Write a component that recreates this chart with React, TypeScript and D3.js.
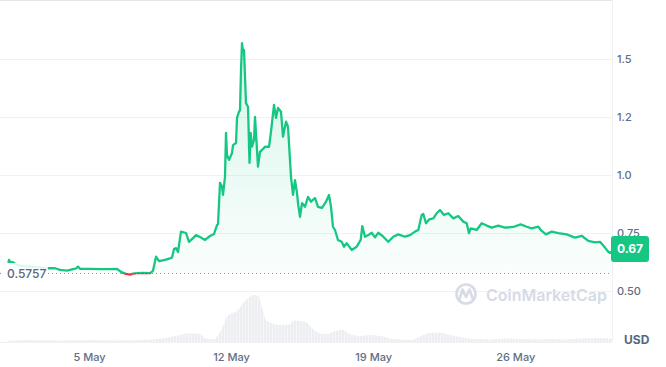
import React from 'react';
import * as d3 from 'd3';

// ---- data (days since 1 May 2024 00:00) ----
const priceDays = [
  0.0, 0.034, 0.084, 0.232, 0.379, 0.576, 0.921, 1.315, 1.66, 1.906,
  2.3, 2.547, 2.892, 3.187, 3.335, 3.433, 3.532, 4.025, 4.517, 5.01,
  5.355, 5.601, 5.798, 5.995, 6.143, 6.34, 6.635, 6.98, 7.128, 7.276,
  7.424, 7.719, 7.966, 8.064, 8.163, 8.261, 8.36, 8.507, 8.754, 8.901,
  9.099, 9.246, 9.443, 9.69, 9.936, 10.133, 10.281, 10.33, 10.429, 10.527,
  10.576, 10.675, 10.724, 10.773, 10.872, 11.02, 11.069, 11.217, 11.266, 11.365,
  11.414, 11.463, 11.512, 11.562, 11.611, 11.709, 11.808, 11.882, 11.941, 12.005,
  12.103, 12.153, 12.3, 12.399, 12.498, 12.645, 12.842, 12.941, 13.089, 13.187,
  13.286, 13.433, 13.532, 13.68, 13.778, 13.926, 14.025, 14.123, 14.222, 14.271,
  14.369, 14.468, 14.616, 14.764, 14.911, 15.108, 15.256, 15.453, 15.65, 15.798,
  15.897, 15.995, 16.094, 16.241, 16.424, 16.537, 16.67, 16.916, 17.163, 17.36,
  17.438, 17.571, 17.734, 17.901, 18.064, 18.227, 18.473, 18.719, 18.966, 19.212,
  19.542, 19.788, 20.034, 20.197, 20.365, 20.443, 20.576, 20.739, 20.936, 21.103,
  21.266, 21.463, 21.675, 21.921, 22.167, 22.414, 22.581, 22.695, 22.778, 23.074,
  23.32, 23.567, 23.813, 24.138, 24.468, 24.877, 25.241, 25.537, 25.783, 26.108,
  26.276, 26.488, 26.768, 27.094, 27.507, 27.916, 28.246, 28.571, 28.901, 29.148,
  29.394, 29.557, 29.64, 29.739,
];
const priceValues = [
  0.621, 0.634, 0.626, 0.624, 0.615, 0.609, 0.606, 0.603, 0.601, 0.598,
  0.598, 0.591, 0.588, 0.594, 0.597, 0.605, 0.596, 0.595, 0.594, 0.594,
  0.595, 0.58, 0.5735, 0.571, 0.5745, 0.577, 0.578, 0.577, 0.587, 0.648,
  0.629, 0.634, 0.641, 0.644, 0.681, 0.685, 0.668, 0.756, 0.75, 0.712,
  0.728, 0.741, 0.733, 0.72, 0.737, 0.746, 0.784, 0.789, 0.966, 0.95,
  0.914, 0.993, 1.181, 1.086, 1.065, 1.095, 1.129, 1.138, 1.246, 1.273,
  1.28, 1.453, 1.568, 1.531, 1.539, 1.31, 1.294, 1.052, 1.181, 1.122,
  1.151, 1.25, 1.036, 1.1, 1.108, 1.122, 1.121, 1.187, 1.302, 1.246,
  1.289, 1.273, 1.165, 1.23, 1.208, 0.993, 0.914, 0.978, 0.922, 0.879,
  0.82, 0.879, 0.863, 0.906, 0.885, 0.901, 0.863, 0.858, 0.885, 0.914,
  0.863, 0.777, 0.763, 0.72, 0.712, 0.691, 0.706, 0.677, 0.691, 0.72,
  0.78, 0.734, 0.741, 0.751, 0.731, 0.751, 0.734, 0.712, 0.734, 0.744,
  0.734, 0.741, 0.756, 0.763, 0.828, 0.832, 0.792, 0.809, 0.813, 0.835,
  0.849, 0.828, 0.835, 0.813, 0.823, 0.799, 0.792, 0.749, 0.77, 0.763,
  0.792, 0.782, 0.773, 0.782, 0.773, 0.776, 0.787, 0.777, 0.77, 0.777,
  0.759, 0.744, 0.756, 0.749, 0.744, 0.73, 0.738, 0.716, 0.71, 0.712,
  0.687, 0.669, 0.664, 0.67,
];
const volumeDays = [
  0, 1.069, 2.547, 4.025, 5.502, 6.98, 7.719, 8.458, 8.951, 9.443,
  9.69, 10.084, 10.281, 10.527, 10.773, 11.02, 11.315, 11.562, 11.808, 12.054,
  12.3, 12.498, 12.695, 12.99, 13.384, 13.877, 14.025, 14.369, 14.714, 15.01,
  15.355, 15.7, 15.995, 16.488, 16.833, 17.325, 17.818, 18.31, 18.951, 19.788,
  20.133, 20.429, 20.921, 21.266, 21.759, 22.35, 22.99, 23.729, 24.468, 25.207,
  25.946, 26.685, 27.424, 28.163, 28.901, 29.739,
];
const volumeValues = [
  15, 20, 15, 20, 15, 25, 40, 70, 87, 80,
  37, 27, 53, 137, 253, 287, 320, 387, 437, 470,
  460, 353, 220, 187, 170, 177, 213, 210, 193, 127,
  87, 77, 103, 120, 77, 60, 70, 60, 30, 20,
  37, 70, 93, 93, 70, 45, 30, 25, 35, 30,
  25, 30, 25, 35, 40, 35,
];
const yTickValues = [0.5, 0.75, 1.0, 1.25, 1.5];
const yTickLabels = ['0.50', '0.75', '1.0', '1.2', '1.5'];
const xTickDays = [4, 11, 18, 25];
const xTickLabels = ['5 May', '12 May', '19 May', '26 May'];
const baselinePrice = 0.5757;
const baselineLabel = '0.5757';
const lastPriceLabel = '0.67';
const domainDays = [-0.41, 29.74];

const GREEN = '#16c784';
const RED = '#ea3943';
const start = new Date(2024, 4, 1);
const toDate = (d: number) => new Date(start.getTime() + d * 86400000);

export default function App() {
  const W = 666;
  const H = 367;
  const plotRight = 612;
  const plotBottom = 342;

  const x = d3.scaleTime().domain([toDate(domainDays[0]), toDate(domainDays[1])]).range([0, plotRight]);
  const y = d3.scaleLinear().domain([0.5, 1.5]).range([291, 59]);
  const yv = d3.scaleLinear().domain([0, 500]).range([plotBottom, 292]);

  const pts = priceDays.map((d, i) => ({ t: toDate(d), v: priceValues[i] }));
  const vols = volumeDays.map((d, i) => ({ t: toDate(d), v: volumeValues[i] }));
  const baseY = y(baselinePrice);

  const line = d3.line<{ t: Date; v: number }>().x(p => x(p.t)).y(p => y(p.v));
  const area = d3.area<{ t: Date; v: number }>().x(p => x(p.t)).y0(baseY).y1(p => y(p.v));
  const volArea = d3.area<{ t: Date; v: number }>().x(p => x(p.t)).y0(plotBottom).y1(p => yv(p.v)).curve(d3.curveMonotoneX);

  const last = pts[pts.length - 1];
  const lastY = y(last.v);
  const font = 'Inter, "Noto Sans", sans-serif';
  const stopOff = baseY / H;

  return (
    <svg width={W} height={H} style={{ position: 'absolute', left: 0, top: 0, background: '#fff' }} fontFamily={font}>
      <defs>
        <linearGradient id="lineGrad" gradientUnits="userSpaceOnUse" x1={0} y1={0} x2={0} y2={H}>
          <stop offset={stopOff} stopColor={GREEN} />
          <stop offset={stopOff} stopColor={RED} />
        </linearGradient>
        <linearGradient id="areaGrad" gradientUnits="userSpaceOnUse" x1={0} y1={y(1.55)} x2={0} y2={baseY}>
          <stop offset={0} stopColor={GREEN} stopOpacity={0.17} />
          <stop offset={1} stopColor={GREEN} stopOpacity={0.02} />
        </linearGradient>
        <pattern id="volPat" width={3} height={10} patternUnits="userSpaceOnUse">
          <rect width={2} height={10} fill="#eceef2" />
          <rect x={2} width={1} height={10} fill="#f5f6f8" />
        </pattern>
      </defs>

      {/* borders */}
      <line x1={0} x2={plotRight} y1={0.5} y2={0.5} stroke="#e3e5e9" />
      <line x1={plotRight + 0.5} x2={plotRight + 0.5} y1={0} y2={plotBottom} stroke="#eff1f4" />
      <line x1={0} x2={plotRight} y1={plotBottom + 0.5} y2={plotBottom + 0.5} stroke="#eff1f4" />

      {/* grid */}
      {yTickValues.map(v => (
        <line key={v} x1={0} x2={plotRight} y1={Math.round(y(v)) + 0.5} y2={Math.round(y(v)) + 0.5} stroke="#eff1f4" />
      ))}

      {/* volume */}
      <path d={volArea(vols) || ''} fill="url(#volPat)" />

      {/* price */}
      <path d={area(pts) || ''} fill="url(#areaGrad)" />
      <path d={line(pts) || ''} fill="none" stroke="url(#lineGrad)" strokeWidth={2.3} strokeLinejoin="round" />

      {/* baseline */}
      <line x1={0} x2={plotRight} y1={baseY} y2={baseY} stroke="#8a93a6" strokeDasharray="1 3" />
      <rect x={2} y={263} width={46} height={19} fill="#fff" fillOpacity={0.85} />
      <text x={7} y={baseY} dy="0.36em" fontSize={12} fontWeight={500} fill="#58667e">{baselineLabel}</text>

      {/* watermark */}
      <g opacity={0.9}>
        <circle cx={466} cy={294} r={9.5} fill="none" stroke="#d2d8e3" strokeWidth={2.6} />
        <path d="M459.5 299 L462.5 289.5 L466 297 L469.5 289.5 L472.5 298" fill="none" stroke="#d2d8e3" strokeWidth={2.6} strokeLinejoin="round" strokeLinecap="round" />
        <text x={486} y={300.5} fontSize={16} fontWeight={600} fill="#d2d8e3">CoinMarketCap</text>
      </g>

      {/* y axis labels */}
      {yTickValues.map((v, i) => (
        <text key={v} x={617} y={y(v)} dy="0.35em" fontSize={11} fontWeight={500} fill="#616e85">{yTickLabels[i]}</text>
      ))}
      <text x={624} y={344} fontSize={12} fontWeight={700} fill="#58667e">USD</text>

      {/* x axis labels */}
      {xTickDays.map((d, i) => (
        <text key={d} x={x(toDate(d))} y={361} textAnchor="middle" fontSize={11} fontWeight={500} fill="#616e85">{xTickLabels[i]}</text>
      ))}

      {/* last price tag */}
      <rect x={611} y={lastY - 15.5} width={38} height={26} rx={3} fill={GREEN} />
      <text x={630} y={lastY - 2.5} dy="0.35em" textAnchor="middle" fontSize={12} fontWeight={700} fill="#fff">{lastPriceLabel}</text>
    </svg>
  );
}
